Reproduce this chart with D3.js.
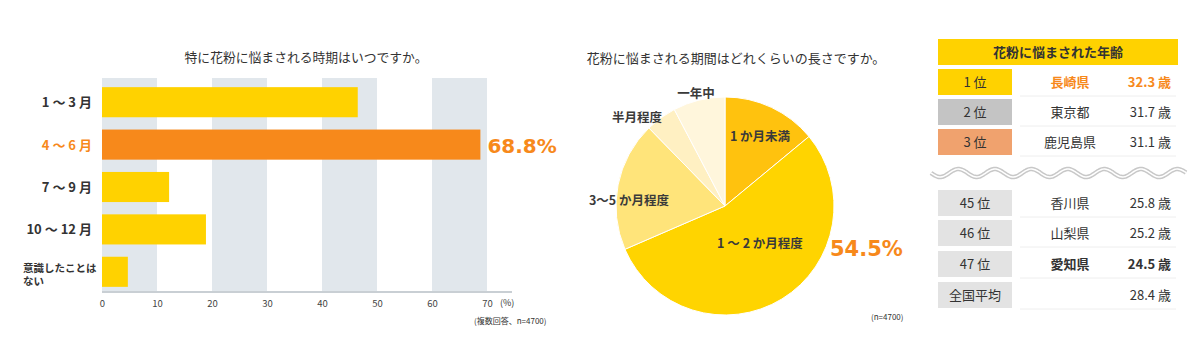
<!DOCTYPE html>
<html>
<head>
<meta charset="utf-8">
<script src="https://cdn.jsdelivr.net/npm/d3@7"></script>
<style>
  body { margin: 0; background: #fff; }
  svg text { font-family: "Noto Sans CJK JP", "Noto Sans", sans-serif; fill: #333; }
</style>
</head>
<body>
<div id="chart"></div>
<script>
// bar chart data
const periods = ["1 ～ 3 月", "4 ～ 6 月", "7 ～ 9 月", "10 ～ 12 月", "意識したことはない"];
const periodValues = [46.5, 68.8, 12.2, 18.9, 4.7];
const xTicks = [0, 10, 20, 30, 40, 50, 60, 70];

// pie data
const durations = ["1 か月未満", "1 ～ 2 か月程度", "3～5 か月程度", "半月程度", "一年中"];
const durationValues = [14.0, 54.5, 19.2, 4.6, 7.7];
const pieColors = ["#ffc20e", "#ffd400", "#ffe47a", "#fff0c2", "#fff6dc"];

// ranking table
const ranks = ["1 位", "2 位", "3 位", "45 位", "46 位", "47 位", "全国平均"];
const prefectures = ["長崎県", "東京都", "鹿児島県", "香川県", "山梨県", "愛知県", ""];
const ages = ["32.3 歳", "31.7 歳", "31.1 歳", "25.8 歳", "25.2 歳", "24.5 歳", "28.4 歳"];

const svg = d3.select("#chart").append("svg")
    .attr("width", 1200)
    .attr("height", 360);

const orange = "#f7891b";

// ---------- bar chart ----------
const x = d3.scaleLinear().domain([0, 70]).range([102, 487]);
const y = d3.scaleBand().domain(periods).range([81, 293]).paddingInner(0.29).paddingOuter(0.145);

const bar = svg.append("g");

bar.append("text")
    .attr("x", 306).attr("y", 62)
    .attr("text-anchor", "middle")
    .attr("font-size", 12.8)
    .text("特に花粉に悩まされる時期はいつですか。");

// shaded bands
bar.selectAll("rect.band")
    .data([0, 20, 40, 60])
    .join("rect")
    .attr("class", "band")
    .attr("x", d => x(d))
    .attr("y", 78)
    .attr("width", d => x(d + 10) - x(d))
    .attr("height", 213)
    .attr("fill", "#e1e7ec");

bar.selectAll("rect.bar")
    .data(periods)
    .join("rect")
    .attr("class", "bar")
    .attr("x", x(0))
    .attr("y", d => y(d))
    .attr("width", (d, i) => x(periodValues[i]) - x(0))
    .attr("height", y.bandwidth())
    .attr("fill", (d, i) => i == 1 ? orange : "#ffd200");

// axis
const xAxis = d3.axisBottom(x).tickValues(xTicks).tickSize(0).tickPadding(8);
const axisG = bar.append("g")
    .attr("transform", "translate(0,292)")
    .call(xAxis);
axisG.select(".domain").remove();
axisG.selectAll("text")
    .attr("font-size", 9.5)
    .style("fill", "#444");
bar.append("line")
    .attr("x1", x(0)).attr("x2", 512)
    .attr("y1", 292).attr("y2", 292)
    .attr("stroke", "#c9cfd4")
    .attr("stroke-width", 2);

bar.append("text")
    .attr("x", 500).attr("y", 306)
    .attr("font-size", 9)
    .text("(%)");
bar.append("text")
    .attr("x", 474).attr("y", 324)
    .attr("font-size", 8)
    .text("(複数回答、n=4700)");

// category labels
bar.selectAll("text.cat")
    .data(periods.slice(0, 4))
    .join("text")
    .attr("class", "cat")
    .attr("x", 92)
    .attr("y", d => y(d) + y.bandwidth() / 2 + 5)
    .attr("text-anchor", "end")
    .attr("font-size", 13)
    .attr("font-weight", "bold")
    .style("fill", (d, i) => i == 1 ? orange : "#333")
    .text(d => d);

const last = periods[4];
const lastLabel = bar.append("text")
    .attr("x", 23)
    .attr("y", y(last) + 15)
    .attr("font-size", 10.5)
    .attr("font-weight", "bold");
lastLabel.append("tspan").attr("x", 23).text("意識したことは");
lastLabel.append("tspan").attr("x", 23).attr("dy", 13).text("ない");

bar.append("text")
    .attr("x", x(periodValues[1]) + 7)
    .attr("y", y(periods[1]) + y.bandwidth() / 2 + 8)
    .attr("font-size", 20)
    .attr("font-weight", "bold")
    .style("fill", orange)
    .style("font-family", "'DejaVu Sans', sans-serif")
    .text(periodValues[1] + "%");

// ---------- pie chart ----------
const cx = 725, cy = 206, r = 109;
const pie = svg.append("g");

pie.append("text")
    .attr("x", 736).attr("y", 63)
    .attr("text-anchor", "middle")
    .attr("font-size", 13)
    .text("花粉に悩まされる期間はどれくらいの長さですか。");

const arcs = d3.pie().sort(null)(durationValues);
const arc = d3.arc().innerRadius(0).outerRadius(r);

const pg = pie.append("g").attr("transform", `translate(${cx},${cy})`);
pg.selectAll("path")
    .data(arcs)
    .join("path")
    .attr("d", arc)
    .attr("fill", (d, i) => pieColors[i])
    .attr("stroke", "#fff")
    .attr("stroke-width", 1);

const labelPos = [
    { x: 760, y: 141 },
    { x: 760, y: 248 },
    { x: 629, y: 205 },
    { x: 637, y: 122 },
    { x: 696, y: 98 }
];
pie.selectAll("text.plabel")
    .data(durations)
    .join("text")
    .attr("class", "plabel")
    .attr("x", (d, i) => labelPos[i].x)
    .attr("y", (d, i) => labelPos[i].y)
    .attr("text-anchor", "middle")
    .attr("font-size", 12.5)
    .attr("font-weight", "bold")
    .style("fill", "#3a3a3a")
    .text(d => d);

pie.append("text")
    .attr("x", 830).attr("y", 256)
    .attr("font-size", 21)
    .attr("font-weight", "bold")
    .style("fill", orange)
    .style("font-family", "'DejaVu Sans', sans-serif")
    .text(durationValues[1] + "%");

pie.append("text")
    .attr("x", 871).attr("y", 320)
    .attr("font-size", 8)
    .text("(n=4700)");

// ---------- ranking table ----------
const tbl = svg.append("g");
const tx0 = 938, tx1 = 1178, boxW = 74, boxH = 26;
const rowY = [69, 99, 129, 190, 220, 251, 282];
const boxColors = ["#ffd200", "#c4c4c4", "#f0a26e", "#e3e3e3", "#e3e3e3", "#e3e3e3", "#e3e3e3"];

tbl.append("rect")
    .attr("x", tx0).attr("y", 39)
    .attr("width", tx1 - tx0).attr("height", 26)
    .attr("fill", "#ffd200");
tbl.append("text")
    .attr("x", (tx0 + tx1) / 2).attr("y", 57)
    .attr("text-anchor", "middle")
    .attr("font-size", 13)
    .attr("font-weight", "bold")
    .text("花粉に悩まされた年齢");

const rows = tbl.selectAll("g.row")
    .data(ranks)
    .join("g")
    .attr("class", "row")
    .attr("transform", (d, i) => `translate(0,${rowY[i]})`);

rows.append("rect")
    .attr("x", tx0).attr("y", 0)
    .attr("width", boxW).attr("height", boxH)
    .attr("fill", (d, i) => boxColors[i]);

rows.append("line")
    .attr("x1", 1020).attr("x2", 1176)
    .attr("y1", boxH + 1).attr("y2", boxH + 1)
    .attr("stroke", "#eeeeee");

rows.append("text")
    .attr("x", tx0 + boxW / 2).attr("y", 18)
    .attr("text-anchor", "middle")
    .attr("font-size", 13)
    .text(d => d);

const rowColor = i => i == 0 ? orange : "#333";
const rowWeight = i => (i == 0 || i == 5) ? "bold" : "normal";

rows.append("text")
    .attr("x", 1070).attr("y", 18)
    .attr("text-anchor", "middle")
    .attr("font-size", 13)
    .attr("font-weight", (d, i) => rowWeight(i))
    .style("fill", (d, i) => rowColor(i))
    .text((d, i) => prefectures[i]);

rows.append("text")
    .attr("x", 1171).attr("y", 18)
    .attr("text-anchor", "end")
    .attr("font-size", 13)
    .attr("font-weight", (d, i) => rowWeight(i))
    .style("fill", (d, i) => rowColor(i))
    .text((d, i) => ages[i]);

// wavy separator
const wave = [];
for (let px = 931; px <= 1186; px += 1) {
    wave.push([px, 173 + 4 * Math.sin((px - 931) / 36.5 * 2 * Math.PI)]);
}
const waveLine = d3.line().curve(d3.curveBasis);
tbl.append("path")
    .attr("d", waveLine(wave))
    .attr("fill", "none")
    .attr("stroke", "#c8c8c8")
    .attr("stroke-width", 4.5);
tbl.append("path")
    .attr("d", waveLine(wave))
    .attr("fill", "none")
    .attr("stroke", "#fff")
    .attr("stroke-width", 1.5);
</script>
</body>
</html>
